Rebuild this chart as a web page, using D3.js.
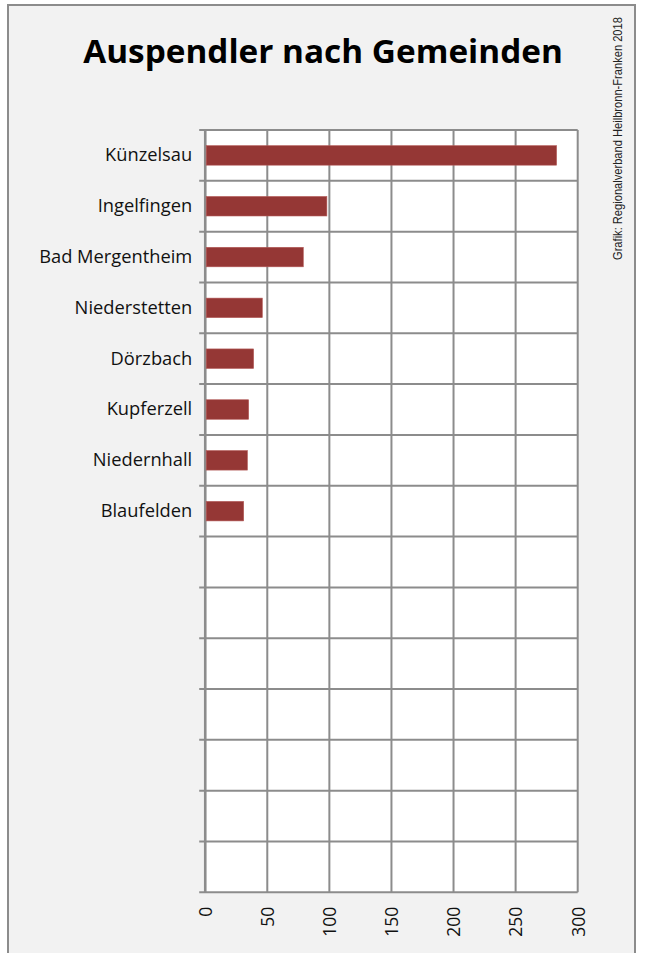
<!DOCTYPE html>
<html>
<head>
<meta charset="utf-8">
<script src="https://cdn.jsdelivr.net/npm/d3@7"></script>
<style>
  html, body { margin: 0; padding: 0; background: #fff; }
  svg { display: block; }
</style>
</head>
<body>
<svg id="chart" width="646" height="953"></svg>
<script>
// Data
const gemeinden = ["Künzelsau", "Ingelfingen", "Bad Mergentheim", "Niederstetten",
    "Dörzbach", "Kupferzell", "Niedernhall", "Blaufelden"];
const auspendler = [283, 98, 79, 46, 39, 35, 34, 31];
// empty rows below the named ones
const leereZeilen = ["", "", "", "", "", "", ""];
const xTicks = [0, 50, 100, 150, 200, 250, 300];

const svg = d3.select("#chart"),
    width = +svg.attr("width"),
    height = +svg.attr("height");

// outer frame
svg.append("rect")
    .attr("x", 8).attr("y", 5)
    .attr("width", 627).attr("height", height + 20)
    .attr("fill", "#f2f2f2")
    .attr("stroke", "#8c8c8c")
    .attr("stroke-width", 2);

const margin = {top: 130, right: 68.3, bottom: 60.7, left: 205.2};
const plotW = width - margin.left - margin.right,
    plotH = height - margin.top - margin.bottom;

const chart = svg.append("g").attr("transform", `translate(${margin.left},${margin.top})`);

const rows = gemeinden.concat(leereZeilen.map((d, i) => "_leer" + i));

// Scales
const x = d3.scaleLinear().domain([0, 300]).range([0, plotW]);
const y = d3.scaleBand().domain(rows).range([0, plotH]).paddingInner(0.616).paddingOuter(0.308);

// plot background
chart.append("rect")
    .attr("width", plotW).attr("height", plotH)
    .attr("fill", "#fff");

// vertical grid
chart.append("g")
    .selectAll("line")
    .data(xTicks)
    .enter().append("line")
    .attr("x1", d => x(d)).attr("x2", d => x(d))
    .attr("y1", 0).attr("y2", plotH)
    .attr("stroke", "#8c8c8c")
    .attr("stroke-width", 2);

// horizontal grid (band boundaries) + left ticks
const step = y.step();
const bounds = d3.range(rows.length + 1).map(i => i * step);
chart.append("g")
    .selectAll("line")
    .data(bounds)
    .enter().append("line")
    .attr("x1", -6).attr("x2", plotW)
    .attr("y1", d => d).attr("y2", d => d)
    .attr("stroke", "#8c8c8c")
    .attr("stroke-width", 2);

// left axis line
chart.append("line")
    .attr("x1", 0).attr("x2", 0)
    .attr("y1", 0).attr("y2", plotH)
    .attr("stroke", "#8c8c8c")
    .attr("stroke-width", 2.5);

// bars
chart.selectAll(".bar")
    .data(gemeinden.map((g, i) => ({name: g, value: auspendler[i]})))
    .enter().append("rect")
    .attr("class", "bar")
    .attr("x", 1)
    .attr("y", d => y(d.name))
    .attr("width", d => x(d.value) - 1)
    .attr("height", y.bandwidth())
    .attr("fill", "#953735")
    .attr("stroke", "#b45a58")
    .attr("stroke-width", 0.6);

// category labels
const yAxis = d3.axisLeft(y).tickSize(0).tickPadding(13)
    .tickFormat(d => d.startsWith("_leer") ? "" : d);
chart.append("g")
    .call(yAxis)
    .call(g => g.select(".domain").remove())
    .selectAll("text")
    .style("font-family", "'Open Sans', sans-serif")
    .style("font-size", "18.3px")
    .style("fill", "#111");

// x axis labels (rotated)
const xAxis = d3.axisBottom(x).tickValues(xTicks).tickSize(0).tickPadding(0);
chart.append("g")
    .attr("transform", `translate(0,${plotH})`)
    .call(xAxis)
    .call(g => g.select(".domain").remove())
    .selectAll("text")
    .attr("transform", "translate(0,14.5) rotate(-90)")
    .attr("x", 0).attr("y", 0)
    .attr("dy", "0.36em")
    .style("text-anchor", "end")
    .style("font-family", "'Open Sans', sans-serif")
    .style("font-size", "17.5px")
    .style("fill", "#111");

// title: tall like the reference, squeezed to its width
const titleG = svg.append("g");
const title = titleG.append("text")
    .attr("x", 0).attr("y", 0)
    .attr("text-anchor", "middle")
    .style("font-family", "'Open Sans', sans-serif")
    .style("font-weight", "bold")
    .style("font-size", "33px")
    .style("fill", "#000")
    .text("Auspendler nach Gemeinden");
const tl = title.node().getComputedTextLength();
titleG.attr("transform", `translate(323,62.5) scale(${480 / tl},1)`);

// source note
const noteG = svg.append("g");
const note = noteG.append("text")
    .style("font-family", "'Liberation Sans', Arial, sans-serif")
    .style("font-size", "12.5px")
    .style("fill", "#222")
    .text("Grafik: Regionalverband Heilbronn-Franken 2018");
const nl = note.node().getComputedTextLength();
noteG.attr("transform", `translate(622,260) rotate(-90) scale(${243 / nl},1)`);
</script>
</body>
</html>
